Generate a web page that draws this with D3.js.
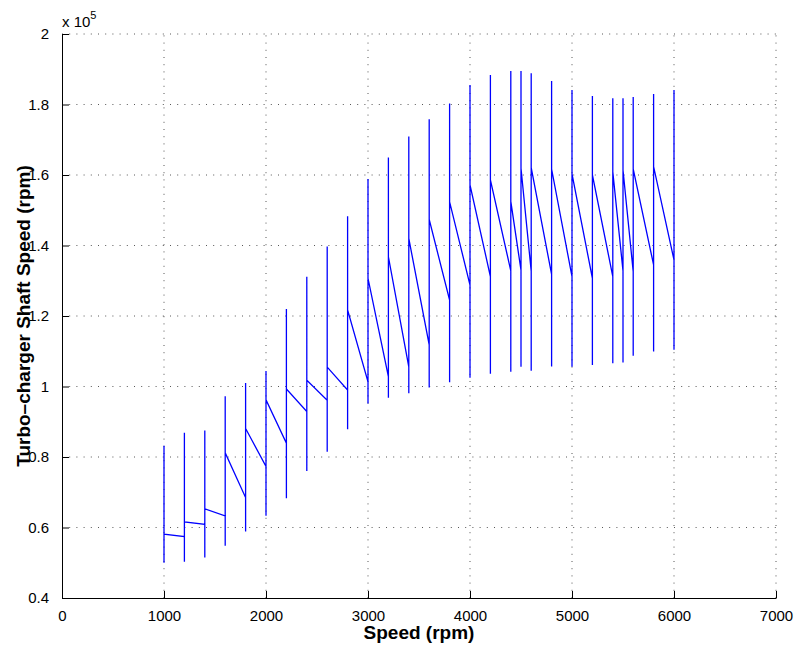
<!DOCTYPE html>
<html>
<head>
<meta charset="utf-8">
<script src="https://cdn.jsdelivr.net/npm/d3@7"></script>
<style>
  html, body { margin: 0; padding: 0; background: #fff; }
  svg { display: block; }
  text { font-family: "Liberation Sans", Arial, Helvetica, sans-serif; }
</style>
</head>
<body>
<svg id="chart" width="796" height="647"></svg>
<script>
// Engine speed steps (rpm)
const speeds = [1000,1200,1400,1600,1800,2000,2200,2400,2600,2800,3000,3200,3400,3600,3800,4000,4200,4400,4500,4600,4800,5000,5200,5400,5500,5600,5800,6000];
// Turbo shaft speed (x 10^5 rpm): value on arrival at each step
const arriveVals = [0.581,0.574,0.609,0.633,0.685,0.773,0.839,0.929,0.961,0.990,1.013,1.028,1.056,1.118,1.245,1.288,1.312,1.328,1.330,1.327,1.318,1.312,1.307,1.312,1.328,1.326,1.345,1.359];
// minimum of the transient at each step
const lowVals = [0.500,0.503,0.515,0.548,0.589,0.633,0.683,0.760,0.815,0.879,0.952,0.968,0.981,0.997,1.012,1.025,1.036,1.042,1.056,1.045,1.057,1.056,1.061,1.066,1.068,1.087,1.099,1.104];
// maximum of the transient at each step
const highVals = [0.832,0.869,0.875,0.972,1.010,1.044,1.220,1.311,1.397,1.483,1.589,1.650,1.709,1.758,1.803,1.855,1.884,1.895,1.895,1.889,1.867,1.841,1.824,1.818,1.818,1.821,1.830,1.841];
// value on leaving each step
const leaveVals = [0.581,0.616,0.653,0.812,0.881,0.962,0.993,1.018,1.055,1.217,1.307,1.368,1.420,1.474,1.524,1.572,1.586,1.525,1.619,1.621,1.617,1.603,1.600,1.609,1.614,1.617,1.624,1.359];

const xTicks = [0,1000,2000,3000,4000,5000,6000,7000];
const yTicks = [0.4,0.6,0.8,1,1.2,1.4,1.6,1.8,2];

const margin = {left: 62, right: 20, top: 34, bottom: 49};
const W = 796, H = 647;
const svg = d3.select("#chart");

const x = d3.scaleLinear().domain([0, 7000]).range([margin.left, W - margin.right]);
const y = d3.scaleLinear().domain([0.4, 2]).range([H - margin.bottom, margin.top]);

// Grid (dotted)
const grid = svg.append("g").attr("stroke", "#444").attr("stroke-width", 0.9)
  .attr("stroke-dasharray", "1,6.2");
grid.selectAll("line.v").data(xTicks.slice(1)).join("line")
  .attr("x1", d => x(d)).attr("x2", d => x(d))
  .attr("y1", y(0.4)).attr("y2", y(2));
grid.selectAll("line.h").data(yTicks.slice(1)).join("line")
  .attr("x1", x(0)).attr("x2", x(7000))
  .attr("y1", d => y(d)).attr("y2", d => y(d));

// Data path
const pts = [];
speeds.forEach((s, i) => {
  pts.push([s, arriveVals[i]]);
  pts.push([s, lowVals[i]]);
  pts.push([s, highVals[i]]);
  pts.push([s, leaveVals[i]]);
});
const line = d3.line().x(d => x(d[0])).y(d => y(d[1]));
svg.append("path").datum(pts)
  .attr("d", line)
  .attr("fill", "none")
  .attr("stroke", "#0000ff")
  .attr("stroke-width", 1.3)
  .attr("stroke-linejoin", "miter");

// Axes
const fmtY = d => (d === 1 || d === 2) ? String(d) : d3.format(".1f")(d);
const xAxis = d3.axisBottom(x).tickValues(xTicks).tickSizeInner(-7).tickSizeOuter(0)
  .tickPadding(12).tickFormat(d3.format("d"));
const yAxis = d3.axisLeft(y).tickValues(yTicks).tickSizeInner(-7).tickSizeOuter(0)
  .tickPadding(13).tickFormat(fmtY);

const gx = svg.append("g").attr("transform", `translate(0,${y(0.4)})`).call(xAxis);
const gy = svg.append("g").attr("transform", `translate(${x(0)},0)`).call(yAxis);
[gx, gy].forEach(g => {
  g.select(".domain").attr("stroke", "#000").attr("stroke-width", 1);
  g.selectAll(".tick line").attr("stroke", "#000").attr("stroke-width", 1);
  g.selectAll(".tick text").attr("fill", "#000").attr("font-size", 15)
    .attr("font-family", "'Liberation Sans', Arial, Helvetica, sans-serif");
});

// Exponent label
const ex = svg.append("text").attr("x", x(0)).attr("y", 27)
  .attr("font-size", 15).attr("fill", "#000");
ex.append("tspan").text("x 10");
ex.append("tspan").attr("dy", -8).attr("font-size", 11).text("5");

// Axis labels
svg.append("text")
  .attr("x", (x(0) + x(7000)) / 2).attr("y", 639)
  .attr("text-anchor", "middle").attr("font-size", 19).attr("font-weight", "bold")
  .attr("fill", "#000").text("Speed (rpm)");
svg.append("text")
  .attr("transform", `translate(30,${(y(0.4) + y(2)) / 2}) rotate(-90)`)
  .attr("text-anchor", "middle").attr("font-size", 19).attr("font-weight", "bold")
  .attr("fill", "#000").text("Turbo\u2013charger Shaft Speed (rpm)");
</script>
</body>
</html>
